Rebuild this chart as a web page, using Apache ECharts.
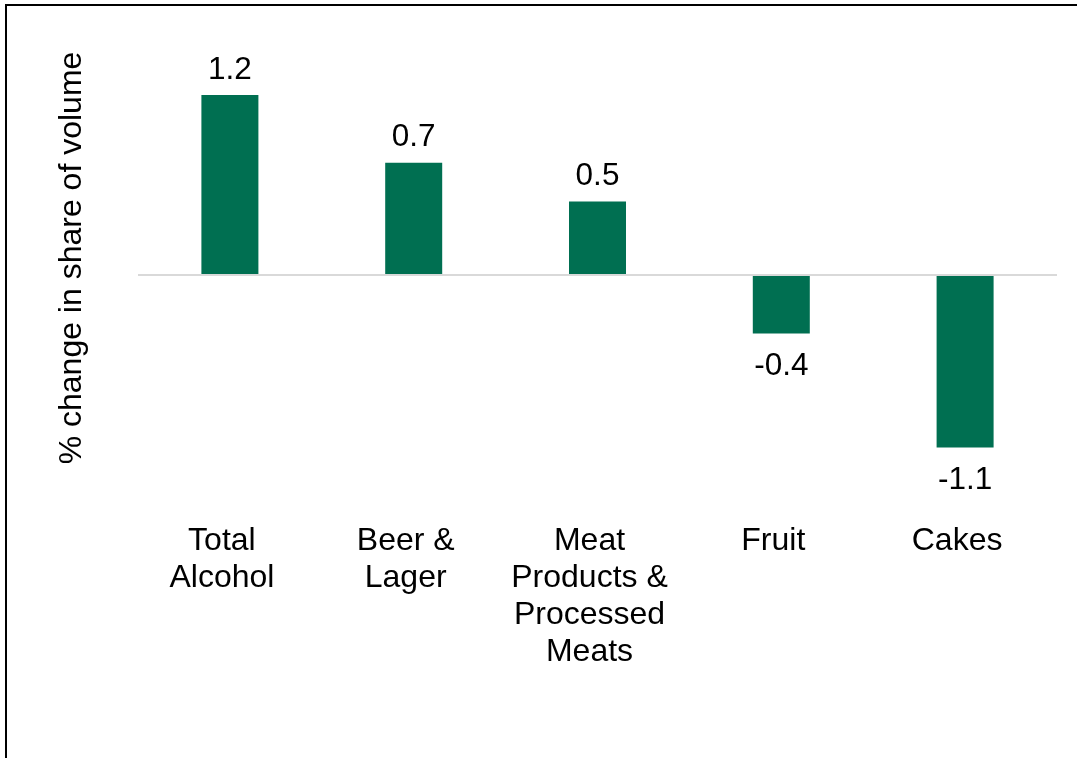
<!DOCTYPE html>
<html>
<head>
<meta charset="utf-8">
<script src="https://cdn.jsdelivr.net/npm/echarts@6/dist/echarts.min.js"></script>
<style>
html,body{margin:0;padding:0;background:#fff;}
#chart{width:1077px;height:758px;}
</style>
</head>
<body>
<div id="chart"></div>
<script>
const categories = ["Total\nAlcohol", "Beer &\nLager", "Meat\nProducts &\nProcessed\nMeats", "Fruit", "Cakes"];
const values = [1.2, 0.749, 0.49, -0.39, -1.15];
const yAxisTitle = "% change in share of volume";

const FONT = "'Liberation Sans', Arial, sans-serif";
const chart = echarts.init(document.getElementById('chart'));

const seriesData = values.map(v => ({
  value: v,
  label: { position: v >= 0 ? 'top' : 'bottom', distance: v >= 0 ? 9 : 17 }
}));

chart.setOption({
  backgroundColor: '#ffffff',
  animation: false,
  grid: { left: 138, right: 20, top: 65, bottom: 243 },
  xAxis: {
    type: 'category',
    data: categories,
    axisLine: { show: false, onZero: false },
    axisTick: { show: false },
    axisLabel: {
      interval: 0,
      margin: 8,
      color: '#000',
      fontFamily: FONT,
      fontSize: 32,
      lineHeight: 37,
      padding: [0, 16, 0, 0]
    }
  },
  yAxis: {
    type: 'value',
    min: -1.6,
    max: 1.4,
    show: false
  },
  graphic: [
    {
      type: 'rect',
      shape: { x: 6, y: 5, width: 1100, height: 800 },
      style: { fill: 'none', stroke: '#000', lineWidth: 2 },
      silent: true
    },
    {
      type: 'text',
      x: 72, y: 258,
      rotation: Math.PI / 2,
      style: {
        text: yAxisTitle,
        fontFamily: FONT,
        fontSize: 32,
        fill: '#000',
        textAlign: 'center',
        textVerticalAlign: 'middle'
      }
    }
  ],
  series: [{
    type: 'bar',
    data: seriesData,
    barWidth: 57,
    itemStyle: { color: '#006F51' },
    label: {
      show: true,
      color: '#000',
      fontFamily: FONT,
      fontSize: 31.5,
      formatter: p => p.value.toFixed(1)
    },
    markLine: {
      silent: true,
      symbol: 'none',
      label: { show: false },
      lineStyle: { color: '#d9d9d9', width: 2, type: 'solid' },
      data: [{ yAxis: 0 }]
    },
    z: 3
  }]
});
</script>
</body>
</html>
